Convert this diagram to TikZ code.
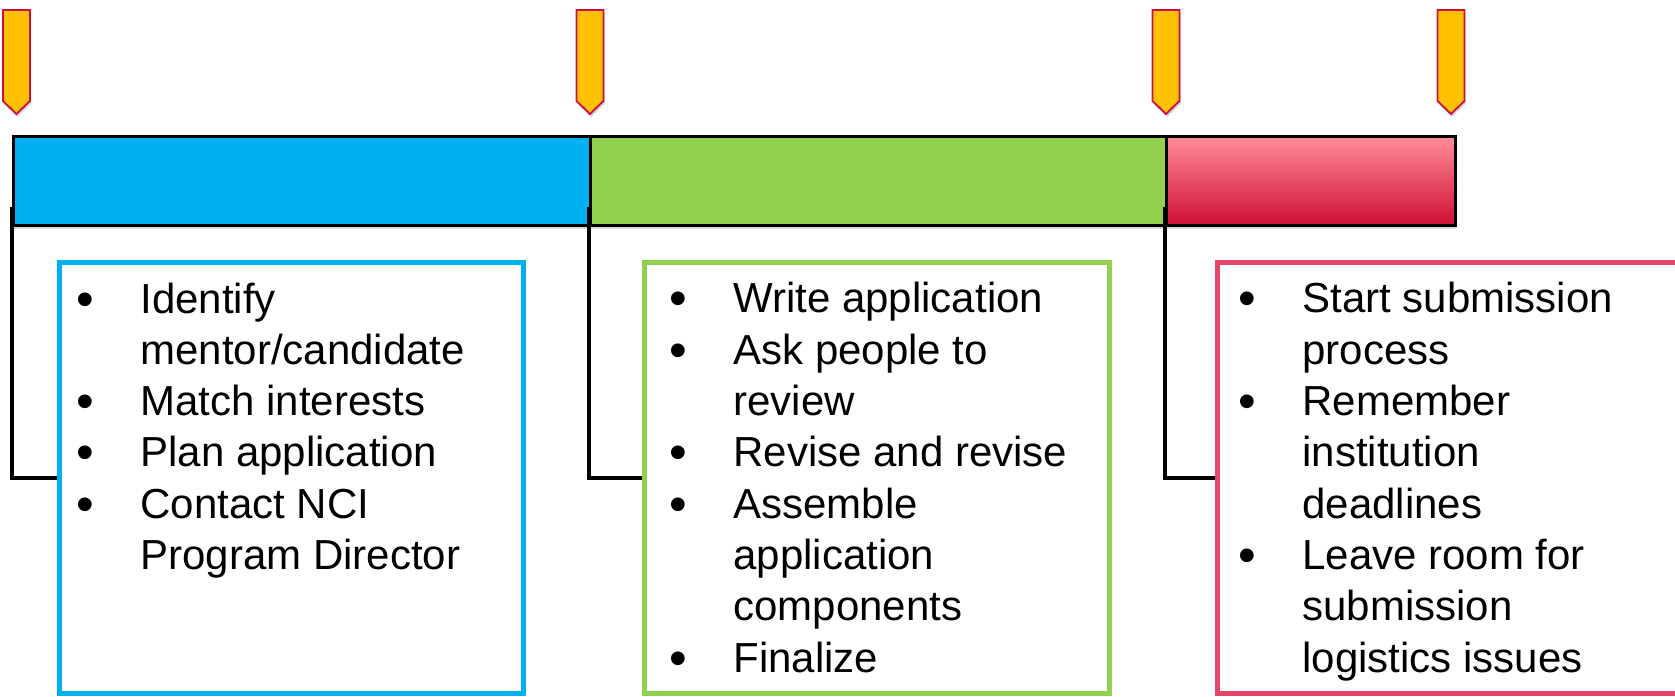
\documentclass[tikz,border=0pt]{standalone}
\usepackage{fontspec}
\usepackage{graphicx}
\setmainfont{Liberation Sans}
\usetikzlibrary{fit,shadows}

\definecolor{tlblue}{RGB}{0,176,240}
\definecolor{tlgreen}{RGB}{146,208,80}
\definecolor{tlred}{RGB}{228,70,105}
\definecolor{tlgold}{RGB}{255,192,0}
\definecolor{tlcrimson}{RGB}{200,16,70}

\newcommand{\itm}[1]{\makebox[55pt][c]{\raisebox{-1.5pt}{\scalebox{1.2}{•}}}#1}
\newcommand{\cnt}[1]{\hspace*{55pt}#1}

\begin{document}
\begin{tikzpicture}[x=0.5pt,y=-0.5pt,
    bar/.style={draw=black,line width=1.5pt,inner sep=0pt,
      drop shadow={shadow xshift=0.5pt,shadow yshift=-1.5pt,opacity=.3}},
    stagebox/.style={draw,line width=2.5pt,inner sep=0pt},
    bracket/.style={draw=black,line width=2pt},
    marker/.style={draw=tlcrimson,fill=tlgold,line width=0.9pt,
      drop shadow={shadow xshift=0.5pt,shadow yshift=-1.5pt,opacity=.3}},
    items/.style={anchor=base west,inner sep=0pt,align=left,
      font=\fontsize{21pt}{25.65pt}\selectfont}]
    \useasboundingbox (0,0) rectangle (1675,696);

    % milestones
    \foreach \x in {16.5,590,1166,1451}
      \draw[marker] ({\x-13.5},10) -- ({\x+13.5},10) -- ({\x+13.5},101)
        -- (\x,114) -- ({\x-13.5},101) -- cycle;

    % timeline bar
    \node[bar,fill=tlblue,fit={(13,136.5) (590,225.5)}] (barA) {};
    \node[bar,fill=tlgreen,fit={(590,136.5) (1166,225.5)}] (barB) {};
    \node[bar,top color={rgb,255:red,255;green,140;blue,152},
      middle color={rgb,255:red,236;green,108;blue,124},
      bottom color={rgb,255:red,206;green,14;blue,50},
      fit={(1166,136.5) (1455,225.5)}] (barC) {};

    % stage boxes
    \node[stagebox,draw=tlblue,fit={(59.5,262.5) (523.5,693.5)}] (boxA) {};
    \node[stagebox,draw=tlgreen,fit={(644.5,262.5) (1109.5,693.5)}] (boxB) {};
    \node[stagebox,draw=tlred,fit={(1217,262.5) (1700,693.5)}] (boxC) {};

    \draw[bracket] ([yshift=10pt]barA.south west) |- (boxA.west);
    \draw[bracket] ([yshift=10pt]barB.south west) |- (boxB.west);
    \draw[bracket] ([yshift=10pt]barC.south west) |- (boxC.west);

    % base = last line
    \node[items] (listA) at (30,569.5) {\itm{Identify}\\ \cnt{mentor/candidate}\\
      \itm{Match interests}\\ \itm{Plan application}\\ \itm{Contact NCI}\\
      \cnt{Program Director}};
    \node[items] (listB) at (623,672) {\itm{Write application}\\ \itm{Ask people to}\\
      \cnt{review}\\ \itm{Revise and revise}\\ \itm{Assemble}\\ \cnt{application}\\
      \cnt{components}\\ \itm{Finalize}};
    \node[items] (listC) at (1192,672) {\itm{Start submission}\\ \cnt{process}\\
      \itm{Remember}\\ \cnt{institution}\\ \cnt{deadlines}\\ \itm{Leave room for}\\
      \cnt{submission}\\ \cnt{logistics issues}};
\end{tikzpicture}
\end{document}
